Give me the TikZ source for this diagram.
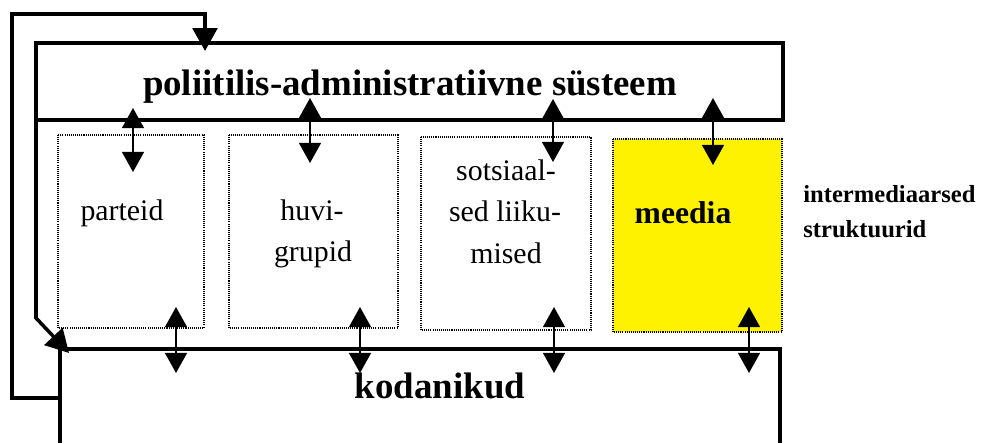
\documentclass[tikz,border=0pt]{standalone}
\usepackage{fontspec}
\setmainfont{Liberation Serif}
\usetikzlibrary{arrows.meta}
\begin{document}
\begin{tikzpicture}[x=0.02cm,y=-0.02cm,
 frame/.style={line width=2pt},
 dotbox/.style={line width=0.6pt, dash pattern=on 0.6pt off 0.6pt},
 dbl/.style={line width=1.1pt, {Triangle[width=12.5pt,length=11.5pt]}-{Triangle[width=12.5pt,length=11.5pt]}},
 bigtip/.style={-{Triangle[width=14pt,length=13pt]}},
 big/.style={font=\bfseries\fontsize{21}{24}\selectfont, anchor=base, inner sep=0},
 lbl/.style={font=\fontsize{17}{23}\selectfont, anchor=base, inner sep=0},
 side/.style={font=\bfseries\fontsize{14}{18}\selectfont, anchor=base west, inner sep=0},
]
\useasboundingbox (0,0) rectangle (984,443);
% frames
\draw[frame] (36,43) rectangle (783,120);
\draw[frame] (60,443) -- (60,349) -- (780,349) -- (780,443);
% intermediate boxes
\draw[dotbox] (58,135) rectangle (204,328);
\draw[dotbox] (229,135) rectangle (398,328);
\draw[dotbox] (421,137) rectangle (591,330);
\draw[dotbox, fill=yellow] (613,139) rectangle (782,332);
% texts
\node[big] (pas) at (410,95) {poliitilis-administratiivne süsteem};
\node[big] (kod) at (440,398) {kodanikud};
\node[lbl] (par) at (122,220) {parteid};
\node[lbl] (huv1) at (312,220) {huvi-};
\node[lbl] (huv2) at (313,261) {grupid};
\node[lbl] (sot1) at (506,180) {sotsiaal-};
\node[lbl] (sot2) at (505,221) {sed liiku-};
\node[lbl] (sot3) at (506,263) {mised};
\node[font=\bfseries\fontsize{18}{22}\selectfont, anchor=base, inner sep=0] (mee) at (683,223) {meedia};
\node[side] (int1) at (803,202) {intermediaarsed};
\node[side] (int2) at (803,237) {struktuurid};
% arrow end points
\coordinate (t1a) at (133,108); \coordinate (t1b) at (133,172);
\coordinate (t2a) at (310,98);  \coordinate (t2b) at (310,163);
\coordinate (t3a) at (553,99);  \coordinate (t3b) at (553,162);
\coordinate (t4a) at (713,98);  \coordinate (t4b) at (713,165);
\coordinate (b1a) at (176,307); \coordinate (b1b) at (176,373);
\coordinate (b2a) at (360,307); \coordinate (b2b) at (360,373);
\coordinate (b3a) at (554,307); \coordinate (b3b) at (554,373);
\coordinate (b4a) at (749,307); \coordinate (b4b) at (749,373);
\foreach \p in {t1,t2,t3,t4,b1,b2,b3,b4} {\draw[dbl] (\p a) -- (\p b);}
% loop connectors
\coordinate (kl) at (60,398); \coordinate (pt) at (205,51);
\coordinate (pl) at (36,120); \coordinate (kc) at (69,353);
\draw[frame, bigtip] (kl) -- (12,398) -- (12,14) -- (205,14) -- (pt);
\draw[frame, bigtip] (pl) -- (36,318) -- (kc);
\end{tikzpicture}
\end{document}
